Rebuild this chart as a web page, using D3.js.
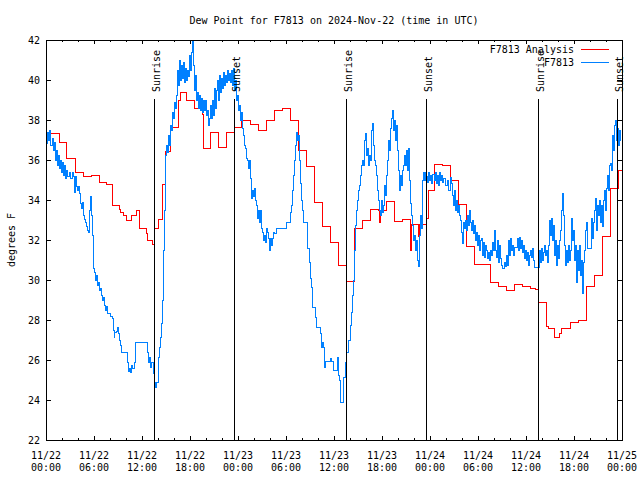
<!DOCTYPE html>
<html><head><meta charset="utf-8">
<script src="https://cdn.jsdelivr.net/npm/d3@7"></script>
<style>
body{margin:0;background:#fff}
text{font-family:"DejaVu Sans Mono",monospace;font-size:10px;fill:#000}
</style>
</head><body><svg id="c" width="640" height="480"></svg>
<script>
// ---------- data ----------
const chartTitle = "Dew Point for F7813 on 2024-Nov-22 (time in UTC)";
const yAxisLabel = "degrees F";
const yTicks = [22,24,26,28,30,32,34,36,38,40,42];
const xTickHours = [0,6,12,18,24,30,36,42,48,54,60,66,72];
const xTickLabels = [["11/22","00:00"],["11/22","06:00"],["11/22","12:00"],["11/22","18:00"],["11/23","00:00"],["11/23","06:00"],["11/23","12:00"],["11/23","18:00"],["11/24","00:00"],["11/24","06:00"],["11/24","12:00"],["11/24","18:00"],["11/25","00:00"]];
const minorTickHours = [2,4,8,10,14,16,20,22,26,28,32,34,38,40,44,46,50,52,56,58,62,64,68,70];
const sunLabels = ["Sunrise","Sunset","Sunrise","Sunset","Sunrise","Sunset"];
const sunHours = [13.53,23.53,37.53,47.5,61.53,71.42];
const seriesNames = ["F7813 Analysis","F7813"];
const seriesColors = ["#ff0000","#0080ff"];

// hours since 2024-11-22 00:00 UTC, dew point in F
const analysisSeries = [
[0,36.85],[0.1,37.33],[1.67,36.88],[2.58,36.08],[3.7,35.38],[4.66,35.2],[5.7,35.25],[6.66,34.88],[7.6,34.78],[8.33,33.75],[9.17,33.53],[9.3,33.38],[9.66,33.23],[10.08,32.98],[10.7,33.23],[11.25,33.48],[11.7,32.58],[12.54,32.33],[12.7,31.98],[13.33,31.78],[13.62,32.56],[14.04,33.03],[14.62,34.78],[14.96,36.45],[15.56,37.63],[16.58,38.98],[16.75,39.38],[17.5,38.98],[18.62,38.56],[19.5,38.3],[19.66,36.6],[20.58,37.4],[21.62,36.63],[22.58,37.4],[23.54,37.63],[24.46,38.0],[25.5,37.8],[26.62,37.5],[27.58,38.0],[28.62,38.5],[29.58,38.6],[30.58,38.0],[31.62,36.5],[32.6,35.7],[33.62,33.9],[34.58,32.7],[35.58,31.9],[36.62,30.75],[37.5,29.95],[38.54,32.6],[39.62,33.0],[40.58,33.55],[41.58,33.5],[41.7,32.9],[41.8,33.5],[42.58,33.95],[43.54,32.95],[44.54,33.05],[45.5,32.8],[45.6,31.5],[45.7,32.8],[46.55,32.2],[46.65,32.8],[47.58,33.1],[47.8,34.5],[48.58,35.8],[49.58,35.75],[50.62,35.0],[51.58,33.8],[52.58,31.7],[53.54,30.8],[55.54,29.87],[56.54,29.7],[57.58,29.5],[58.62,29.8],[59.62,29.7],[60.58,29.6],[61.2,29.55],[61.54,28.9],[62.5,27.7],[62.83,27.6],[63.54,27.13],[64.17,27.33],[64.46,27.6],[65.54,27.9],[66.5,27.97],[67.5,29.67],[68.54,30.25],[69.54,32.2],[70.5,34.6],[71.58,35.5],[72,35.5]
];

const obsSeries = [
[0,36.85],[0.13,37.4],[0.25,37.0],[0.38,37.5],[0.5,36.75],[0.75,37.1],[0.88,36.5],[1.0,36.9],[1.13,36.0],[1.25,36.5],[1.38,35.75],[1.5,36.25],[1.63,35.6],[1.75,36.0],[1.88,35.4],[2.0,35.9],[2.13,35.25],[2.25,35.75],[2.38,35.1],[2.5,35.5],[2.63,35.2],[2.88,35.4],[3.0,35.1],[3.25,35.4],[3.38,35.2],[3.5,34.4],[3.63,35.2],[3.75,34.7],[3.88,34.5],[4.0,34.7],[4.13,34.35],[4.25,33.85],[4.38,33.6],[4.5,33.9],[4.63,33.25],[4.75,33.05],[4.88,32.9],[5.0,32.7],[5.13,32.5],[5.25,32.4],[5.38,33.5],[5.5,34.2],[5.63,33.25],[5.75,32.25],[5.88,31.25],[5.94,30.6],[6.0,30.4],[6.13,30.0],[6.25,30.25],[6.38,29.75],[6.5,29.9],[6.63,29.5],[6.75,29.6],[6.88,29.25],[7.0,29.0],[7.13,29.15],[7.25,28.75],[7.38,28.5],[7.5,28.7],[7.63,28.35],[8.0,28.2],[8.25,28.1],[8.38,27.5],[8.5,27.15],[8.56,27.4],[8.75,27.45],[8.88,27.65],[9.0,27.35],[9.13,27.0],[9.25,26.75],[9.38,26.4],[10.13,25.9],[10.25,25.45],[10.38,25.6],[10.5,25.4],[10.63,25.75],[10.75,25.6],[11.0,25.9],[11.13,26.9],[12.63,26.4],[12.75,25.9],[12.88,26.15],[13.0,25.65],[13.13,25.9],[13.38,25.35],[13.5,24.9],[13.63,24.65],[13.75,24.9],[14.06,26.15],[14.19,26.65],[14.31,27.15],[14.44,27.85],[14.56,29.0],[14.63,30.0],[14.71,31.5],[14.79,33.5],[14.88,35.25],[14.96,36.25],[15.04,36.75],[15.13,36.4],[15.25,37.25],[15.38,36.75],[15.5,37.75],[15.63,37.5],[15.75,38.4],[15.88,38.1],[16.0,38.9],[16.13,38.6],[16.25,39.25],[16.38,40.5],[16.5,39.75],[16.63,41.0],[16.75,40.0],[16.88,40.75],[17.0,40.1],[17.13,40.9],[17.25,39.9],[17.38,40.6],[17.5,40.0],[17.63,40.5],[17.75,40.2],[17.88,41.25],[18.0,40.5],[18.13,41.4],[18.25,42.0],[18.38,40.75],[18.5,39.5],[18.63,40.25],[18.75,39.0],[18.88,39.4],[19.0,38.6],[19.13,39.25],[19.25,38.5],[19.38,39.1],[19.5,38.4],[19.63,39.0],[19.75,38.5],[19.88,39.0],[20.0,38.25],[20.13,38.5],[20.25,37.75],[20.38,38.1],[20.5,38.75],[20.63,38.1],[20.75,39.0],[20.88,38.25],[21.0,39.6],[21.13,38.6],[21.25,39.5],[21.38,40.0],[21.5,39.0],[21.63,40.25],[21.75,39.4],[21.88,40.1],[22.0,39.6],[22.13,40.4],[22.25,39.75],[22.38,40.25],[22.5,39.9],[22.63,40.5],[22.75,40.0],[22.88,40.35],[23.0,39.9],[23.13,40.5],[23.25,39.75],[23.38,40.6],[23.5,39.5],[23.63,40.0],[23.75,39.0],[23.88,39.25],[24.0,38.5],[24.13,38.75],[24.25,38.0],[24.38,38.4],[24.5,37.6],[24.63,37.25],[24.75,36.75],[24.88,36.6],[25.0,36.1],[25.13,36.0],[25.25,35.6],[25.38,36.0],[25.5,35.1],[25.63,34.1],[25.75,34.5],[25.88,34.2],[26.0,34.6],[26.13,34.0],[26.25,33.75],[26.38,33.1],[26.5,33.5],[26.63,32.9],[26.75,33.5],[26.88,32.6],[27.0,32.4],[27.13,32.0],[27.25,32.25],[27.38,31.9],[27.5,32.6],[27.63,32.4],[27.75,32.1],[27.88,31.5],[28.0,32.1],[28.13,31.75],[28.25,32.1],[28.38,32.4],[28.5,32.35],[28.75,32.6],[30.06,32.9],[30.5,33.4],[30.63,33.75],[30.75,34.5],[30.88,35.25],[31.0,36.0],[31.13,36.75],[31.25,37.4],[31.38,37.0],[31.5,37.25],[31.63,36.0],[31.75,34.85],[31.88,34.0],[32.0,33.5],[32.13,32.9],[32.63,31.6],[32.88,30.9],[33.0,30.1],[33.13,29.65],[33.31,28.65],[33.63,28.15],[33.83,27.65],[34.25,27.35],[34.38,26.65],[34.5,26.9],[34.63,26.65],[34.75,25.65],[34.88,25.95],[35.5,26.1],[35.63,25.95],[35.88,25.5],[36.38,26.15],[36.5,25.25],[36.63,25.0],[36.84,23.9],[37.16,25.15],[37.46,25.9],[37.59,26.4],[37.84,27.0],[38.0,27.75],[38.13,28.4],[38.25,29.25],[38.38,30.0],[38.5,31.5],[38.63,32.75],[38.75,33.5],[38.88,34.0],[39.0,34.5],[39.13,34.75],[39.25,35.25],[39.38,35.75],[39.5,36.0],[39.63,35.75],[39.75,37.0],[39.88,37.35],[40.0,36.25],[40.13,36.6],[40.25,35.75],[40.38,36.25],[40.5,36.0],[40.63,37.5],[40.75,37.85],[40.88,36.75],[41.0,36.0],[41.13,35.75],[41.25,35.25],[41.38,34.5],[41.5,34.0],[41.63,33.5],[41.75,33.25],[41.88,34.0],[42.0,33.4],[42.13,33.75],[42.25,34.75],[42.38,34.25],[42.5,35.25],[42.63,36.0],[42.75,37.0],[42.88,36.5],[43.0,37.6],[43.13,38.1],[43.25,38.5],[43.38,37.5],[43.5,38.0],[43.63,37.0],[43.75,37.75],[43.88,36.5],[44.0,35.5],[44.13,34.5],[44.25,35.25],[44.38,34.75],[44.5,35.5],[44.63,35.75],[44.75,36.25],[44.88,35.75],[45.0,36.5],[45.13,35.5],[45.25,36.6],[45.38,35.0],[45.5,33.85],[45.63,33.25],[45.75,32.75],[45.88,32.0],[46.0,32.25],[46.13,31.5],[46.25,32.0],[46.38,31.0],[46.5,30.7],[46.63,32.25],[46.75,33.25],[46.88,32.6],[47.0,35.0],[47.13,35.4],[47.25,35.0],[47.38,35.4],[47.5,35.2],[47.63,34.9],[47.75,35.4],[47.88,35.0],[48.0,35.25],[48.13,34.85],[48.25,35.3],[48.5,35.0],[48.63,35.4],[48.75,34.85],[48.88,35.25],[49.0,34.75],[49.13,35.4],[49.25,35.0],[49.38,35.25],[49.5,34.9],[49.63,35.1],[49.88,34.75],[50.13,35.0],[50.25,34.5],[50.5,35.15],[50.63,34.85],[50.75,34.25],[50.88,33.75],[51.0,34.5],[51.13,33.5],[51.25,34.0],[51.38,33.4],[51.5,33.75],[51.63,33.25],[51.75,33.0],[51.88,32.4],[52.0,31.85],[52.13,32.9],[52.25,32.6],[52.38,33.0],[52.5,32.5],[52.63,33.25],[52.75,32.75],[52.88,33.5],[53.0,32.9],[53.13,32.5],[53.25,33.0],[53.38,32.35],[53.5,32.75],[53.63,32.0],[53.75,32.4],[53.88,31.75],[54.0,32.25],[54.13,31.5],[54.25,32.0],[54.38,32.1],[54.5,31.25],[54.63,31.9],[54.75,31.15],[54.88,31.75],[55.0,31.5],[55.13,31.1],[55.25,31.4],[55.38,31.0],[55.5,31.5],[55.63,31.25],[55.75,31.9],[55.88,31.5],[56.0,32.5],[56.13,31.5],[56.25,31.15],[56.38,32.0],[56.5,30.9],[56.63,31.75],[56.75,31.1],[56.88,30.75],[57.0,30.6],[57.25,30.9],[57.38,30.7],[57.5,31.25],[57.63,30.75],[57.75,32.0],[57.88,31.25],[58.0,32.1],[58.13,31.5],[58.25,31.75],[58.38,31.25],[58.5,31.65],[58.88,32.1],[59.0,31.5],[59.13,32.15],[59.25,31.6],[59.38,32.0],[59.5,31.4],[59.63,31.75],[59.75,31.1],[59.88,31.5],[60.0,31.0],[60.13,31.4],[60.25,30.75],[60.38,31.25],[60.5,31.5],[60.63,31.15],[60.75,31.6],[60.88,31.0],[61.0,30.65],[61.63,31.5],[61.75,30.9],[61.88,31.6],[62.0,31.0],[62.13,31.4],[62.25,31.75],[62.38,31.25],[62.5,31.5],[62.63,30.9],[62.75,31.75],[62.88,33.0],[63.0,32.25],[63.13,33.1],[63.25,32.0],[63.38,32.75],[63.5,31.25],[63.63,32.0],[63.75,30.75],[63.88,31.75],[64.0,31.1],[64.13,32.0],[64.25,32.5],[64.38,33.5],[64.5,34.35],[64.63,33.25],[64.75,31.75],[64.88,30.75],[65.0,31.5],[65.13,30.9],[65.25,31.75],[65.38,31.0],[65.5,31.5],[65.63,33.1],[65.75,32.0],[65.88,32.5],[66.0,31.0],[66.13,31.75],[66.25,29.9],[66.38,31.5],[66.5,30.5],[66.63,31.75],[66.75,30.25],[66.88,31.0],[67.0,29.35],[67.13,30.9],[67.25,31.5],[67.38,32.5],[67.5,32.9],[67.63,31.6],[68.13,33.1],[68.25,32.1],[68.38,32.9],[68.5,33.5],[68.63,34.1],[68.75,32.5],[68.88,33.75],[69.0,33.25],[69.13,34.0],[69.25,32.9],[69.38,33.75],[69.5,32.7],[69.63,34.0],[69.75,34.5],[69.88,33.5],[70.0,34.6],[70.13,35.25],[70.25,34.5],[70.38,35.75],[70.5,35.85],[70.63,35.5],[70.75,37.25],[70.88,36.5],[71.0,37.75],[71.13,38.0],[71.25,37.0],[71.38,37.6],[71.5,36.75],[71.63,37.5],[71.75,37.0],[71.85,37.0]
];

// ---------- drawing ----------
const svg = d3.select("#c");
const L = 46, R = 622, T = 40, B = 440;
const x = d3.scaleLinear().domain([0,72]).range([L,R]);
const y = d3.scaleLinear().domain([22,42]).range([B,T]);

svg.append("rect").attr("width",640).attr("height",480).attr("fill","#fff");

// title
svg.append("text").attr("x",334).attr("y",24).attr("text-anchor","middle").text(chartTitle);

// y label
svg.append("text").attr("transform","translate(15,240) rotate(-90)").attr("text-anchor","middle").text(yAxisLabel);

function tickAxis(gen, tx, ty){
  const g = svg.append("g").attr("transform",`translate(${tx},${ty})`).call(gen);
  g.select(".domain").remove();
  g.selectAll("text").remove();
  g.selectAll("line").attr("stroke","#000").attr("shape-rendering","crispEdges");
  return g;
}
tickAxis(d3.axisBottom(x).tickValues(minorTickHours).tickSize(-2), 0, B);
tickAxis(d3.axisBottom(x).tickValues(xTickHours).tickSize(-4), 0, B);
tickAxis(d3.axisTop(x).tickValues(minorTickHours).tickSize(-2), 0, T);
tickAxis(d3.axisTop(x).tickValues(xTickHours).tickSize(-4), 0, T);
tickAxis(d3.axisLeft(y).tickValues(yTicks).tickSize(-5), L, 0);
tickAxis(d3.axisRight(y).tickValues(yTicks).tickSize(-5), R, 0);

// y tick labels
svg.append("g").selectAll("text").data(yTicks).join("text")
  .attr("x",40).attr("y",d=>y(d)+4).attr("text-anchor","end").text(d=>d);

// x tick labels
const xl = svg.append("g").selectAll("text").data(xTickHours).join("text")
  .attr("text-anchor","middle");
xl.each(function(d,i){
  const t = d3.select(this);
  t.append("tspan").attr("x",x(d)).attr("y",459).text(xTickLabels[i][0]);
  t.append("tspan").attr("x",x(d)).attr("y",471).text(xTickLabels[i][1]);
});

// series
const line = d3.line().x(d=>x(d[0])).y(d=>y(d[1])).curve(d3.curveStepAfter);
const plot = svg.append("g");
plot.append("path").datum(analysisSeries).attr("d",line)
  .attr("fill","none").attr("stroke",seriesColors[0]).attr("stroke-width",1).attr("shape-rendering","crispEdges");
plot.append("path").datum(obsSeries).attr("d",line)
  .attr("fill","none").attr("stroke",seriesColors[1]).attr("stroke-width",1).attr("shape-rendering","crispEdges");

// sunrise / sunset lines
const sun = svg.append("g");
sunHours.forEach((h,i)=>{
  const px = Math.round(x(h)) + 0.5;
  sun.append("line").attr("x1",px).attr("x2",px).attr("y1",99).attr("y2",B)
    .attr("stroke","#000").attr("stroke-width",1).attr("shape-rendering","crispEdges");
  sun.append("text").attr("transform",`translate(${px+5},92) rotate(-90)`)
    .attr("text-anchor","start").text(sunLabels[i]);
});

// frame
svg.append("rect").attr("x",L+0.5).attr("y",T+0.5).attr("width",R-L).attr("height",B-T)
  .attr("fill","none").attr("stroke","#000").attr("shape-rendering","crispEdges");

// legend
const leg = svg.append("g");
seriesNames.forEach((n,i)=>{
  const ly = 49 + i*13;
  leg.append("text").attr("x",574).attr("y",ly+4).attr("text-anchor","end").text(n);
  leg.append("line").attr("x1",581).attr("x2",609).attr("y1",ly+0.5).attr("y2",ly+0.5)
    .attr("stroke",seriesColors[i]).attr("stroke-width",1).attr("shape-rendering","crispEdges");
});
</script>
</body></html>
